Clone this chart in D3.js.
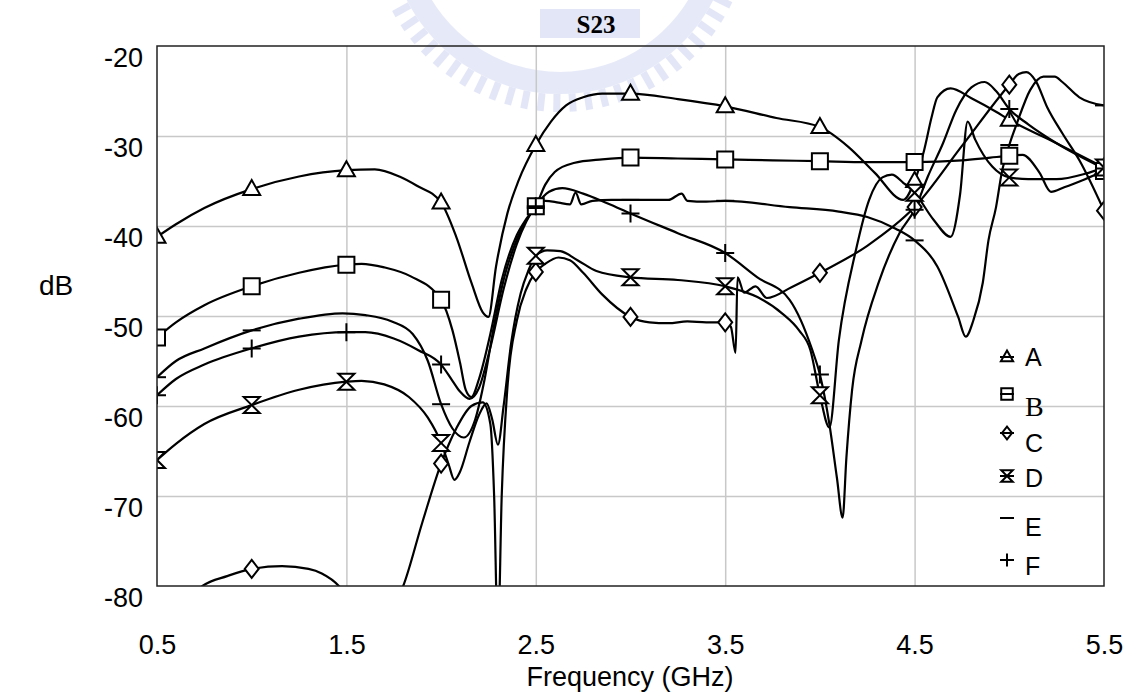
<!DOCTYPE html>
<html>
<head>
<meta charset="utf-8">
<script src="https://cdn.jsdelivr.net/npm/d3@7"></script>
<style>
  html, body { margin: 0; padding: 0; background: #fff; }
  svg { display: block; }
</style>
</head>
<body>
<svg id="chart" width="1126" height="695"></svg>
<script>
// ---- data -------------------------------------------------------------
const xTickValues = [0.5, 1.5, 2.5, 3.5, 4.5, 5.5];
const yTickValues = [-20, -30, -40, -50, -60, -70, -80];
const seriesNames = ["A", "B", "C", "D", "E", "F"];

// [frequency GHz, S23 dB]
const seriesA = [[0.5,-41.2],[0.6,-39.8],[0.75,-38.0],[1.0,-35.9],[1.25,-34.5],[1.5,-33.8],[1.65,-33.7],[1.78,-34.5],[1.87,-35.5],[2.0,-37.4],[2.08,-41.2],[2.16,-46.3],[2.22,-49.6],[2.25,-50.1],[2.29,-44.5],[2.35,-38.6],[2.41,-34.9],[2.5,-31.0],[2.58,-28.4],[2.66,-26.6],[2.75,-25.7],[2.85,-25.3],[3.0,-25.3],[3.25,-25.9],[3.5,-26.7],[3.77,-28.0],[4.0,-29.0],[4.15,-31.2],[4.29,-34.1],[4.44,-37.1],[4.5,-35.0],[4.55,-31.6],[4.59,-27.9],[4.62,-25.7],[4.69,-24.7],[4.8,-25.8],[4.93,-27.3],[5.0,-28.2],[5.21,-30.4],[5.5,-33.5]];
const seriesB = [[0.5,-52.4],[0.6,-50.7],[0.75,-48.8],[1.0,-46.7],[1.25,-45.2],[1.5,-44.3],[1.58,-44.2],[1.7,-44.6],[1.84,-45.6],[2.0,-48.2],[2.06,-51.6],[2.1,-55.2],[2.13,-58.2],[2.16,-59.0],[2.2,-57.0],[2.26,-52.0],[2.32,-46.0],[2.4,-41.0],[2.45,-39.2],[2.5,-37.8],[2.55,-35.4],[2.6,-34.0],[2.7,-33.0],[2.85,-32.6],[3.0,-32.4],[3.25,-32.5],[3.5,-32.6],[3.75,-32.7],[4.0,-32.8],[4.25,-32.9],[4.5,-32.9],[4.75,-32.7],[4.9,-32.4],[5.0,-32.2],[5.07,-32.1],[5.16,-34.1],[5.22,-36.2],[5.29,-35.7],[5.4,-34.8],[5.5,-33.9]];
const seriesC = [[0.5,-86.0],[0.62,-82.5],[0.74,-80.0],[0.87,-78.9],[1.0,-78.1],[1.16,-77.8],[1.3,-78.1],[1.37,-78.6],[1.46,-80.0],[1.55,-83.0],[1.65,-86.0],[1.73,-83.0],[1.8,-80.0],[1.9,-73.0],[2.0,-66.4],[2.08,-62.5],[2.16,-60.0],[2.22,-59.6],[2.26,-62.0],[2.28,-70.0],[2.3,-86.0],[2.32,-70.0],[2.35,-58.0],[2.4,-50.5],[2.45,-47.0],[2.5,-45.1],[2.55,-44.2],[2.62,-43.5],[2.68,-43.8],[2.75,-45.2],[2.85,-47.6],[3.0,-50.1],[3.1,-50.7],[3.2,-50.8],[3.3,-50.6],[3.4,-50.7],[3.5,-50.7],[3.53,-51.2],[3.555,-54.1],[3.565,-45.7],[3.6,-47.4],[3.66,-46.7],[3.72,-48.0],[3.85,-46.8],[4.0,-45.2],[4.25,-42.2],[4.5,-37.9],[4.75,-31.1],[5.0,-24.3],[5.05,-23.1],[5.09,-22.9],[5.14,-23.9],[5.2,-26.8],[5.28,-29.7],[5.37,-32.7],[5.5,-38.3]];
const seriesD = [[0.5,-66.0],[0.6,-64.2],[0.75,-62.0],[1.0,-59.9],[1.25,-58.2],[1.5,-57.3],[1.58,-57.2],[1.7,-57.6],[1.83,-59.0],[1.93,-61.3],[2.0,-64.1],[2.04,-66.5],[2.07,-68.2],[2.1,-67.3],[2.15,-64.0],[2.2,-61.0],[2.24,-59.7],[2.27,-61.5],[2.3,-64.3],[2.33,-60.0],[2.37,-53.0],[2.42,-47.5],[2.46,-45.0],[2.5,-43.3],[2.56,-42.7],[2.63,-42.8],[2.72,-43.8],[2.82,-45.0],[3.0,-45.7],[3.25,-46.0],[3.5,-46.7],[3.67,-47.9],[3.8,-49.7],[3.89,-51.6],[3.95,-53.8],[4.0,-58.8],[4.05,-62.4],[4.1,-52.7],[4.19,-42.7],[4.26,-37.1],[4.33,-34.6],[4.38,-34.3],[4.44,-35.2],[4.5,-36.3],[4.6,-39.3],[4.69,-41.2],[4.74,-36.5],[4.78,-28.4],[4.82,-30.4],[4.91,-33.4],[5.0,-34.6],[5.1,-34.8],[5.25,-34.8],[5.4,-34.2],[5.5,-33.5]];
const seriesE = [[0.5,-56.8],[0.6,-55.0],[0.75,-53.6],[1.0,-51.6],[1.25,-50.3],[1.48,-49.7],[1.6,-49.9],[1.74,-50.6],[1.85,-52.0],[1.93,-55.0],[2.0,-59.8],[2.06,-62.5],[2.12,-63.5],[2.18,-61.5],[2.23,-57.0],[2.28,-51.0],[2.33,-46.0],[2.4,-41.5],[2.46,-39.0],[2.5,-38.0],[2.55,-37.2],[2.62,-37.4],[2.68,-37.6],[2.71,-36.3],[2.74,-37.6],[2.8,-37.2],[2.9,-37.1],[3.0,-37.1],[3.2,-37.1],[3.27,-36.4],[3.3,-37.2],[3.4,-37.3],[3.5,-37.2],[3.84,-37.9],[4.1,-38.4],[4.25,-39.0],[4.4,-40.3],[4.5,-41.6],[4.62,-44.5],[4.73,-50.1],[4.77,-52.3],[4.81,-50.5],[4.86,-46.3],[4.89,-41.6],[4.93,-37.9],[4.96,-34.1],[5.0,-31.0],[5.04,-28.6],[5.11,-24.9],[5.18,-23.4],[5.24,-23.4],[5.28,-24.0],[5.37,-25.7],[5.5,-26.6]];
const seriesF = [[0.5,-58.8],[0.6,-57.0],[0.75,-55.4],[1.0,-53.6],[1.25,-52.3],[1.5,-51.8],[1.6,-51.8],[1.75,-52.5],[1.88,-53.8],[2.0,-55.4],[2.06,-57.2],[2.1,-58.4],[2.15,-59.2],[2.2,-58.0],[2.26,-53.5],[2.33,-47.0],[2.4,-42.0],[2.45,-39.5],[2.5,-37.8],[2.57,-36.2],[2.64,-35.8],[2.75,-36.4],[2.88,-37.5],[3.0,-38.6],[3.25,-40.8],[3.5,-43.0],[3.67,-45.7],[3.84,-48.2],[3.96,-53.8],[4.0,-56.5],[4.05,-62.0],[4.09,-68.0],[4.12,-72.4],[4.14,-65.7],[4.17,-58.2],[4.22,-52.7],[4.31,-46.3],[4.42,-40.8],[4.5,-38.2],[4.57,-34.5],[4.65,-30.8],[4.72,-27.1],[4.8,-24.6],[4.87,-24.0],[4.93,-25.0],[5.0,-27.0],[5.1,-28.7],[5.25,-30.8],[5.5,-33.6]];

const allSeries = [seriesA, seriesB, seriesC, seriesD, seriesE, seriesF];
const markerKinds = ["triangle", "square", "diamond", "hourglass", "dash", "plus"];

// ---- layout -----------------------------------------------------------
const svg = d3.select("#chart");
const plot = { left: 157, right: 1104, top: 46, bottom: 586 };
const x = d3.scaleLinear().domain([0.5, 5.5]).range([plot.left, plot.right]);
const y = d3.scaleLinear().domain([-80, -20]).range([plot.bottom, plot.top]);
const sans = "'Liberation Sans', Arial, sans-serif";
const serif = "'Liberation Serif', 'Times New Roman', serif";

// ---- faint emblem behind the title -------------------------------------
const emblem = svg.append("g").attr("opacity", 0.4);
const ec = [560, -78];
emblem.append("path")
  .attr("transform", `translate(${ec[0]},${ec[1]})`)
  .attr("d", d3.arc().innerRadius(150).outerRadius(172).startAngle(Math.PI * 0.62).endAngle(Math.PI * 1.38)())
  .attr("fill", "#c3cbef");
d3.range(116, 246, 5).forEach(deg => {
  const a = deg * Math.PI / 180;
  emblem.append("line")
    .attr("x1", ec[0] + Math.sin(a) * 172).attr("y1", ec[1] - Math.cos(a) * 172)
    .attr("x2", ec[0] + Math.sin(a) * 190).attr("y2", ec[1] - Math.cos(a) * 190)
    .attr("stroke", "#b9c2ec").attr("stroke-width", 7);
});
emblem.append("rect").attr("x", 540).attr("y", 9).attr("width", 100).attr("height", 29).attr("fill", "#b9c2ec");

// ---- title --------------------------------------------------------------
svg.append("text")
  .attr("x", 596).attr("y", 33)
  .attr("text-anchor", "middle")
  .attr("font-family", serif).attr("font-weight", "bold").attr("font-size", 25)
  .text("S23");

// ---- grid ---------------------------------------------------------------
const grid = svg.append("g");
grid.append("g")
  .attr("transform", `translate(0,${plot.bottom})`)
  .call(d3.axisBottom(x).tickValues(xTickValues.slice(1, -1)).tickSize(-(plot.bottom - plot.top)).tickFormat(""))
  .call(g => g.select(".domain").remove())
  .call(g => g.selectAll("line").attr("stroke", "#c8c8c8").attr("stroke-width", 1.5));
grid.append("g")
  .attr("transform", `translate(${plot.left},0)`)
  .call(d3.axisLeft(y).tickValues(yTickValues.slice(1, -1)).tickSize(-(plot.right - plot.left)).tickFormat(""))
  .call(g => g.select(".domain").remove())
  .call(g => g.selectAll("line").attr("stroke", "#c8c8c8").attr("stroke-width", 1.5));

// ---- tick labels --------------------------------------------------------
svg.append("g")
  .attr("transform", `translate(0,${plot.bottom})`)
  .call(d3.axisBottom(x).tickValues(xTickValues).tickSize(0).tickPadding(49).tickFormat(d3.format(".1f")))
  .call(g => g.select(".domain").remove())
  .call(g => g.selectAll("text").attr("font-family", sans).attr("font-size", 27).attr("fill", "#000"));
svg.append("g")
  .attr("transform", `translate(${plot.left},0)`)
  .call(d3.axisLeft(y).tickValues(yTickValues).tickSize(0).tickPadding(14).tickFormat(d => d3.format("d")(d).replace("−", "-")))
  .call(g => g.select(".domain").remove())
  .call(g => g.selectAll("text").attr("font-family", sans).attr("font-size", 27).attr("fill", "#000").attr("dy", "0.76em"));

svg.append("text")
  .attr("x", 630).attr("y", 686)
  .attr("text-anchor", "middle")
  .attr("font-family", sans).attr("font-size", 27)
  .text("Frequency (GHz)");
svg.append("text")
  .attr("x", 56).attr("y", 295)
  .attr("text-anchor", "middle")
  .attr("font-family", sans).attr("font-size", 28)
  .text("dB");

// ---- curves ---------------------------------------------------------------
svg.append("defs").append("clipPath").attr("id", "plot-clip")
  .append("rect")
  .attr("x", plot.left).attr("y", plot.top)
  .attr("width", plot.right - plot.left).attr("height", plot.bottom - plot.top);

const line = d3.line()
  .x(d => x(d[0]))
  .y(d => y(d[1]))
  .curve(d3.curveMonotoneX);

const curves = svg.append("g").attr("clip-path", "url(#plot-clip)");
curves.selectAll("path.series")
  .data(allSeries)
  .join("path")
  .attr("class", "series")
  .attr("d", line)
  .attr("fill", "none")
  .attr("stroke", "#000")
  .attr("stroke-width", 2.2)
  .attr("stroke-linejoin", "round");

// marker glyphs, centred on (0,0)
function markerPath(kind, s) {
  switch (kind) {
    case "triangle":  return `M0,${-9*s}L${8.5*s},${6*s}L${-8.5*s},${6*s}Z`;
    case "square":    return `M${-8*s},${-8*s}H${8*s}V${8*s}H${-8*s}Z`;
    case "diamond":   return `M0,${-9*s}L${7*s},0L0,${9*s}L${-7*s},0Z`;
    case "hourglass": return `M${-8*s},${-8*s}H${8*s}L${-8*s},${8*s}H${8*s}Z`;
    case "dash":      return `M${-9*s},0H${9*s}`;
    case "plus":      return `M${-9*s},0H${9*s}M0,${-9*s}V${9*s}`;
  }
}
const isMarkerPoint = d => Math.abs(d[0] * 2 - Math.round(d[0] * 2)) < 1e-9;

allSeries.forEach((series, i) => {
  const kind = markerKinds[i];
  const closed = kind !== "dash" && kind !== "plus";
  curves.append("g").selectAll("path")
    .data(series.filter(d => isMarkerPoint(d) && d[1] >= -80 && d[1] <= -20))
    .join("path")
    .attr("transform", d => `translate(${x(d[0])},${y(d[1])})`)
    .attr("d", markerPath(kind, 1))
    .attr("fill", closed ? "#fff" : "none")
    .attr("stroke", "#000")
    .attr("stroke-width", 2);
});

// ---- plot frame -------------------------------------------------------------
svg.append("rect")
  .attr("x", plot.left).attr("y", plot.top)
  .attr("width", plot.right - plot.left).attr("height", plot.bottom - plot.top)
  .attr("fill", "none").attr("stroke", "#222").attr("stroke-width", 1.5);

// ---- legend -----------------------------------------------------------------
const legendRowY = [357, 394, 433, 476, 518, 560];
const legendLabelDy = [0, 12, 10, 2, 9, 6];
const legend = svg.append("g");
seriesNames.forEach((name, i) => {
  const g = legend.append("g").attr("transform", `translate(1007,${legendRowY[i]})`);
  g.append("line").attr("x1", -7).attr("x2", 7).attr("stroke", "#000").attr("stroke-width", 2);
  g.append("path")
    .attr("d", markerPath(markerKinds[i], 0.72))
    .attr("fill", "none").attr("stroke", "#000").attr("stroke-width", 2);
  g.append("text")
    .attr("x", 18).attr("y", legendLabelDy[i])
    .attr("dy", "0.36em")
    .attr("font-family", name === "B" ? serif : sans)
    .attr("font-size", name === "B" ? 28 : 25)
    .text(name);
});
</script>
</body>
</html>
